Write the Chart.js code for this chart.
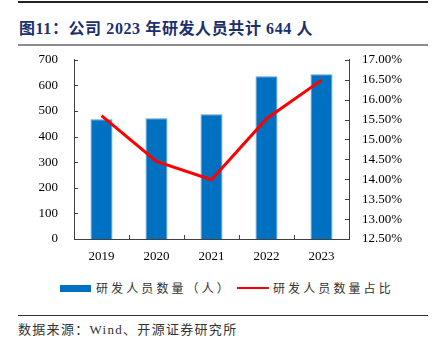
<!DOCTYPE html>
<html>
<head>
<meta charset="utf-8">
<script src="https://cdn.jsdelivr.net/npm/chart.js@4"></script>
<style>
  body { margin: 0; width: 433px; height: 346px; background: #fff; position: relative; overflow: hidden; }
  .rule { position: absolute; left: 18px; width: 410px; }
  #title { position: absolute; left: 19px; top: 15px; font: bold 16px "Liberation Serif", "Noto Sans CJK SC", serif; color: #1c2f6e; letter-spacing: 0.6px; white-space: nowrap; }
  #wrap { position: absolute; left: 0; top: 36px; width: 433px; height: 234px; }
  #legend { position: absolute; top: 279px; left: 0; width: 433px; font: 12px "Noto Sans CJK SC", sans-serif; color: #333; letter-spacing: 3.1px; }
  .lg { position: absolute; top: 0; white-space: nowrap; }
  .sw { position: absolute; }
  #source { position: absolute; left: 18px; top: 319px; font: 13px "Liberation Serif", "Noto Sans CJK SC", serif; color: #333; white-space: nowrap; letter-spacing: 1.3px; }
</style>
</head>
<body>
<div class="rule" style="top:1px;height:2px;background:#222"></div>
<div id="title">图11：公司 2023 年研发人员共计 644 人</div>
<div class="rule" style="top:44px;height:2px;background:#8c8c8c"></div>
<div id="wrap"><canvas id="c" width="433" height="234"></canvas></div>
<div id="legend">
  <div class="sw" style="left:60px;top:6px;width:31px;height:7px;background:#0070c0"></div>
  <div class="lg" style="left:96px">研发人员数量（人）</div>
  <div class="sw" style="left:237px;top:8px;width:32px;height:2px;background:#ff0000"></div>
  <div class="lg" style="left:273px">研发人员数量占比</div>
</div>
<div class="rule" style="top:315px;height:1px;background:#333"></div>
<div id="source">数据来源：Wind、开源证券研究所</div>
<script>
const years = ['2019', '2020', '2021', '2022', '2023'];
const staffCount = [468, 472, 487, 636, 644];
const staffShare = [15.60, 14.45, 13.99, 15.52, 16.49];

const axisColor = '#404040';
const tickFont = { family: '"Liberation Serif", serif', size: 13 };

// short tick marks drawn inward, like the source chart
const innerTicks = {
  id: 'innerTicks',
  afterDraw(chart) {
    const ctx = chart.ctx;
    const a = chart.chartArea;
    const y = chart.scales.y, y1 = chart.scales.y1, x = chart.scales.x;
    ctx.save();
    ctx.strokeStyle = axisColor;
    ctx.lineWidth = 1;
    ctx.beginPath();
    y.ticks.forEach(t => {
      const p = Math.round(y.getPixelForValue(t.value)) + 0.5;
      ctx.moveTo(a.left, p); ctx.lineTo(a.left + 4, p);
    });
    y1.ticks.forEach(t => {
      const p = Math.round(y1.getPixelForValue(t.value)) + 0.5;
      ctx.moveTo(a.right, p); ctx.lineTo(a.right - 4, p);
    });
    for (let i = 1; i < years.length; i++) {
      const p = Math.round((x.getPixelForTick(i - 1) + x.getPixelForTick(i)) / 2) + 0.5;
      ctx.moveTo(p, a.bottom); ctx.lineTo(p, a.bottom - 4);
    }
    ctx.stroke();
    ctx.restore();
  }
};

new Chart(document.getElementById('c'), {
  data: {
    labels: years,
    datasets: [
      {
        type: 'line',
        label: '研发人员数量占比',
        data: staffShare,
        yAxisID: 'y1',
        borderColor: '#ff0000',
        backgroundColor: '#ff0000',
        borderWidth: 3,
        pointRadius: 0,
        tension: 0,
        order: 0
      },
      {
        type: 'bar',
        label: '研发人员数量（人）',
        data: staffCount,
        yAxisID: 'y',
        backgroundColor: '#0070c0',
        borderColor: '#5b9bd5',
        borderWidth: { left: 1, right: 1, top: 1, bottom: 0 },
        categoryPercentage: 1,
        barPercentage: 0.4,
        order: 1
      }
    ]
  },
  options: {
    responsive: false,
    animation: false,
    layout: { padding: 0 },
    plugins: { legend: { display: false }, tooltip: { enabled: false } },
    scales: {
      x: {
        offset: true,
        grid: { display: false, drawTicks: false },
        border: { color: axisColor, width: 1 },
        ticks: { color: '#000', font: tickFont, padding: 10, maxRotation: 0 },
        afterFit(s) { s.height = 31; }
      },
      y: {
        position: 'left',
        min: 0, max: 700,
        grid: { display: false, drawTicks: false },
        border: { color: axisColor, width: 1 },
        ticks: { stepSize: 100, color: '#000', font: tickFont, padding: 16, autoSkip: false },
        afterFit(s) { s.width = 74; }
      },
      y1: {
        position: 'right',
        min: 12.5, max: 17,
        grid: { display: false, drawTicks: false },
        border: { color: axisColor, width: 1 },
        ticks: {
          stepSize: 0.5, color: '#000', font: tickFont, padding: 13, autoSkip: false,
          callback: v => v.toFixed(2) + '%'
        },
        afterFit(s) { s.width = 84; }
      }
    }
  },
  plugins: [innerTicks]
});
</script>
</body>
</html>
